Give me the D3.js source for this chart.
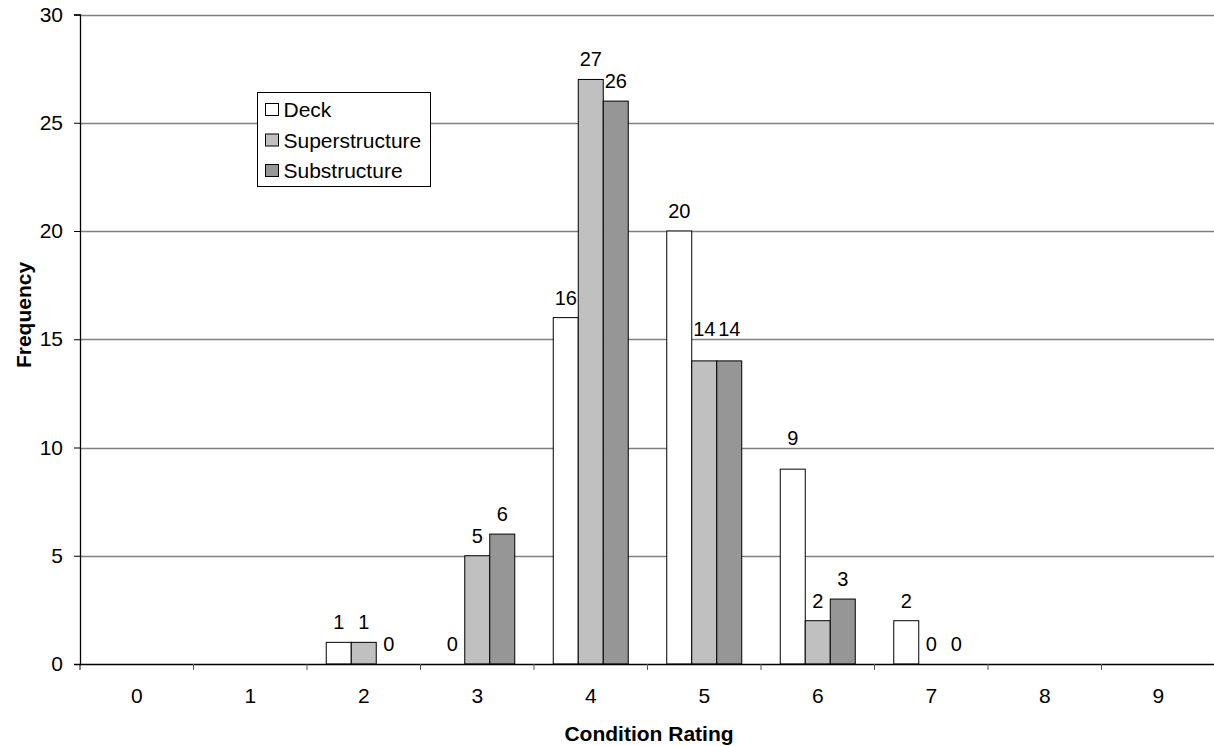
<!DOCTYPE html>
<html>
<head>
<meta charset="utf-8">
<script src="https://cdn.jsdelivr.net/npm/d3@7"></script>
<style>
  html, body { margin: 0; padding: 0; background: #fff; }
  svg { display: block; font-family: "Liberation Sans", Arial, sans-serif; }
</style>
</head>
<body>
<svg id="chart" width="1214" height="746"></svg>
<script>
const categories = ["0","1","2","3","4","5","6","7","8","9"];
const seriesNames = ["Deck", "Superstructure", "Substructure"];
const deck = [null, null, 1, 0, 16, 20, 9, 2, null, null];
const superstructure = [null, null, 1, 5, 27, 14, 2, 0, null, null];
const substructure = [null, null, 0, 6, 26, 14, 3, 0, null, null];
const yTicks = [0, 5, 10, 15, 20, 25, 30];
const colors = ["#ffffff", "#c0c0c0", "#969696"];

const seriesValues = [deck, superstructure, substructure];

const svg = d3.select("#chart");
const margin = { left: 80, top: 14.5, right: 1215, bottom: 664 };
const FS = 21;
const LFS = 20;

const x = d3.scaleBand().domain(categories).range([margin.left, margin.right]).paddingInner(0).paddingOuter(0);
const xSeries = d3.scaleBand().domain(seriesNames).range([0, x.bandwidth()]).paddingInner(0).paddingOuter(0.77);
const y = d3.scaleLinear().domain([0, 30]).range([margin.bottom, margin.top]);

// gridlines
svg.append("g").selectAll("line").data(yTicks.filter(d => d > 0)).join("line")
  .attr("x1", margin.left).attr("x2", 1214)
  .attr("y1", d => Math.round(y(d)) + 0.5).attr("y2", d => Math.round(y(d)) + 0.5)
  .attr("stroke", "#808080").attr("stroke-width", 1.3);

// label baseline: above the bar; if it would cross a gridline, lift above that gridline
function labelY(v) {
  let base = y(v) - 13;
  const top = base - 14;
  yTicks.filter(t => t > 0).forEach(t => {
    const gy = y(t);
    if (gy > top && gy < base + 3) base = gy - 3;
  });
  return base;
}

// bars
const groups = svg.append("g").selectAll("g").data(categories).join("g")
  .attr("transform", d => `translate(${x(d)},0)`);

seriesNames.forEach((s, si) => {
  const vals = seriesValues[si];
  groups.filter((d, i) => vals[i] !== null && vals[i] > 0)
    .append("rect")
    .attr("x", xSeries(s))
    .attr("width", xSeries.bandwidth())
    .attr("y", (d) => y(vals[categories.indexOf(d)]))
    .attr("height", (d) => y(0) - y(vals[categories.indexOf(d)]))
    .attr("fill", colors[si])
    .attr("stroke", "#000").attr("stroke-width", 1);
  groups.filter((d, i) => vals[i] !== null)
    .append("text")
    .attr("x", xSeries(s) + xSeries.bandwidth() / 2)
    .attr("y", (d) => labelY(vals[categories.indexOf(d)]))
    .attr("text-anchor", "middle")
    .attr("font-size", LFS)
    .attr("fill", "#000")
    .text((d) => vals[categories.indexOf(d)]);
});

// y axis
const yAxis = d3.axisLeft(y).tickValues(yTicks).tickSize(6).tickPadding(11);
const gy = svg.append("g").attr("transform", `translate(${margin.left},0)`).call(yAxis);
gy.select(".domain").attr("stroke", "#000").attr("stroke-width", 1.3);
gy.selectAll(".tick line").attr("stroke", "#000");
gy.selectAll(".tick text").attr("font-size", FS).attr("font-family", "Liberation Sans, Arial, sans-serif").attr("fill", "#000");

// x axis
const xAxis = d3.axisBottom(x).tickSize(0).tickPadding(24);
const gx = svg.append("g").attr("transform", `translate(0,${margin.bottom})`).call(xAxis);
gx.select(".domain").attr("stroke", "#000").attr("stroke-width", 1.3);
gx.selectAll(".tick text").attr("font-size", FS).attr("font-family", "Liberation Sans, Arial, sans-serif").attr("fill", "#000");
// category separator ticks
gx.append("g").selectAll("line").data(categories.slice(1)).join("line")
  .attr("x1", d => x(d)).attr("x2", d => x(d))
  .attr("y1", 0).attr("y2", 6)
  .attr("stroke", "#555");
gx.append("line").attr("x1", margin.left).attr("x2", margin.left).attr("y1", 0).attr("y2", 6).attr("stroke", "#000");

// axis titles
svg.append("text")
  .attr("x", 649).attr("y", 741)
  .attr("text-anchor", "middle").attr("font-weight", "bold").attr("font-size", 21)
  .text("Condition Rating");
svg.append("text")
  .attr("transform", "translate(31,315) rotate(-90)")
  .attr("text-anchor", "middle").attr("font-weight", "bold").attr("font-size", 21)
  .text("Frequency");

// legend
const legend = svg.append("g").attr("transform", "translate(257.5,92.5)");
legend.append("rect").attr("width", 173).attr("height", 94)
  .attr("fill", "#fff").attr("stroke", "#000").attr("stroke-width", 1);
seriesNames.forEach((s, i) => {
  const row = legend.append("g").attr("transform", `translate(8,${17 + i * 30.5})`);
  row.append("rect").attr("x", 0).attr("y", -6).attr("width", 13).attr("height", 12)
    .attr("fill", colors[i]).attr("stroke", "#000");
  row.append("text").attr("x", 18).attr("y", 7.5).attr("font-size", FS).text(s);
});
</script>
</body>
</html>
